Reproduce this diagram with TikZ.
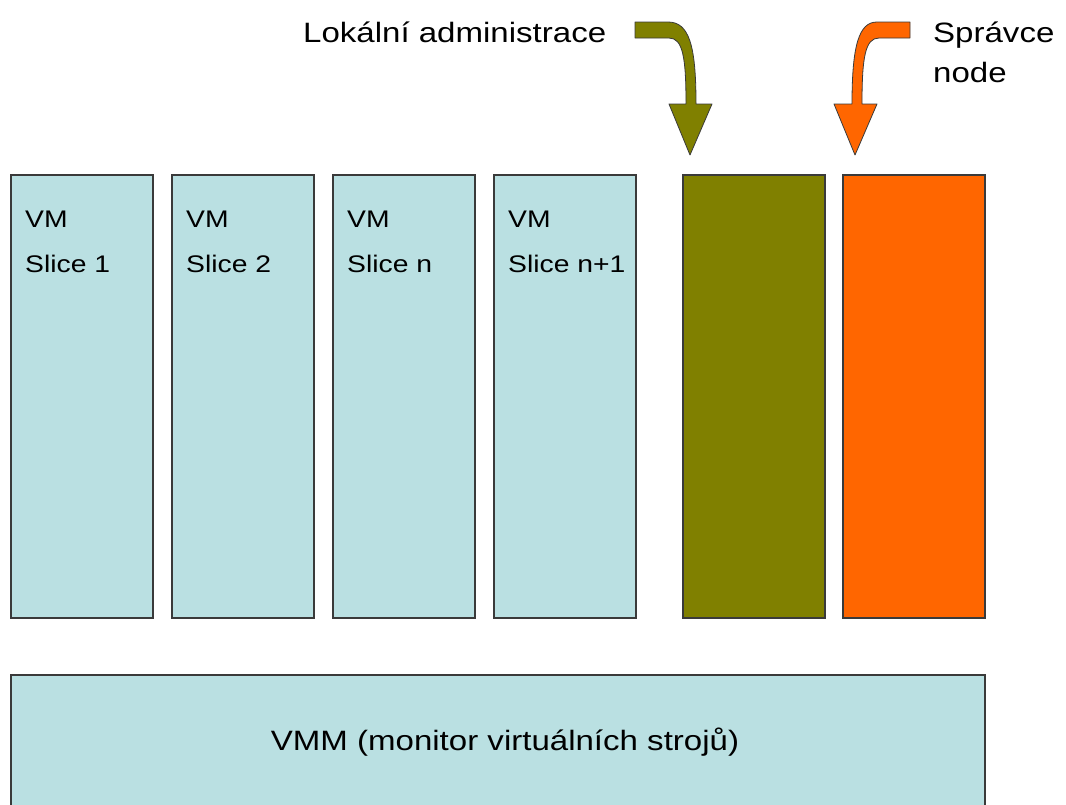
\documentclass[tikz,border=0pt]{standalone}
\usepackage{fontspec}
\setmainfont{Liberation Sans}[FakeStretch=1.18]
\definecolor{slicebg}{HTML}{BAE0E2}
\definecolor{adminolive}{HTML}{808000}
\definecolor{nodeorange}{HTML}{FF6600}
\definecolor{edge}{HTML}{3A3A3A}

\begin{document}
\begin{tikzpicture}[x=1pt,y=-1pt]
\tikzstyle{box}=[draw=edge, line width=1.1pt, inner sep=0pt, minimum width=142pt, minimum height=443pt]
\tikzstyle{slice}=[box, fill=slicebg]
\tikzstyle{lbl}=[inner sep=0pt, font=\fontsize{24}{28}\selectfont]
\tikzstyle{title}=[inner sep=0pt, font=\fontsize{28}{34}\selectfont]
\tikzstyle{bent}=[draw=edge, line width=0.8pt, line join=round]

\fill[white] (0,0) rectangle (1066,804);
\useasboundingbox (0,0) rectangle (1066,804);

% virtual machines
\node[slice] (vm1) at ( 82,396.5) {};
\node[slice] (vm2) at (243,396.5) {};
\node[slice] (vm3) at (404,396.5) {};
\node[slice] (vm4) at (565,396.5) {};
\node[box, fill=adminolive] (admin) at (754,396.5) {};
\node[box, fill=nodeorange] (mgr) at (914,396.5) {};

\node[lbl, anchor=base west] (vm1a) at ( 25,227) {VM};
\node[lbl, anchor=base west] (vm1b) at ( 25,272) {Slice 1};
\node[lbl, anchor=base west] (vm2a) at (186,227) {VM};
\node[lbl, anchor=base west] (vm2b) at (186,272) {Slice 2};
\node[lbl, anchor=base west] (vm3a) at (347,227) {VM};
\node[lbl, anchor=base west] (vm3b) at (347,272) {Slice n};
\node[lbl, anchor=base west] (vm4a) at (508,227) {VM};
\node[lbl, anchor=base west] (vm4b) at (508,272) {Slice n+1};

% hypervisor (runs off the bottom edge)
\node[slice, minimum width=974pt, minimum height=140pt] (vmm) at (498,745) {};
\node[title] (vmmtxt) at (505,742) {VMM (monitor virtuálních strojů)};

% the two management entries
\node[title, anchor=base west] (local) at (303,42) {Lokální administrace};
\node[title, anchor=base west] (mgrtxt) at (933,42) {Správce};
\node[title, anchor=base west] (mgrtxt2) at (933,82) {node};

\filldraw[bent, fill=adminolive] (635,22) -- (668,22)
  .. controls (689,22) and (696,45) .. (696,104) -- (712,104) -- (690,155)
  -- (669,104) -- (686,104) .. controls (686,58) and (683,38) .. (669,38)
  -- (635,38) -- cycle;
\filldraw[bent, fill=nodeorange] (910,22) -- (877,22)
  .. controls (859,22) and (852,45) .. (852,104) -- (834,104) -- (855,155)
  -- (877,104) -- (862,104) .. controls (862,58) and (865,38) .. (879,38)
  -- (910,38) -- cycle;
\end{tikzpicture}
\end{document}
